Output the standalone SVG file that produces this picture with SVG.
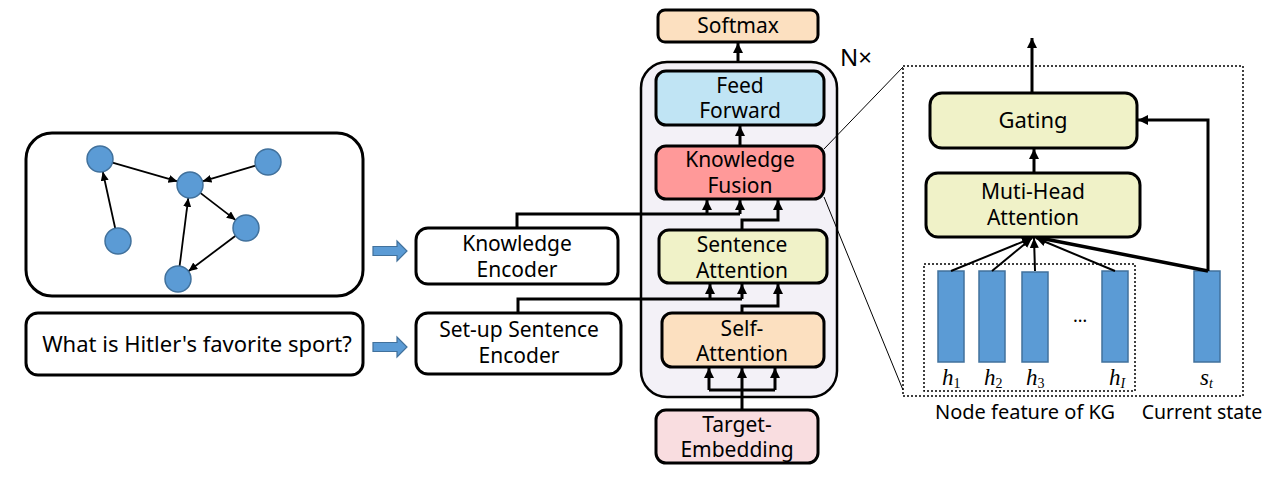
<svg xmlns="http://www.w3.org/2000/svg" width="1280" height="495" viewBox="0 0 1280 495">
<style>
text{font-family:"Noto Sans","Open Sans","Liberation Sans",sans-serif;font-size:21px;fill:#000;text-anchor:middle}
.big{font-size:22px}
.box{stroke:#000;stroke-width:3}
.gnode{fill:#5b9bd5;stroke:#41719c;stroke-width:1.5}
.gedge{stroke:#000;stroke-width:1.8;fill:none;marker-end:url(#sa)}
.th{stroke:#000;stroke-width:3;fill:none}
.tha{stroke:#000;stroke-width:3;fill:none;marker-end:url(#ta)}
.bar{fill:#5b9bd5;stroke:#41719c;stroke-width:1.5}
.dot{fill:none;stroke:#000;stroke-width:1.5;stroke-dasharray:2,2}
.barr{fill:#5b9bd5;stroke:#41719c;stroke-width:1.2}
.math{font-family:"Liberation Serif","DejaVu Serif",serif;font-style:italic;font-size:23px;text-anchor:start}
.sub{font-size:14px}
</style>
<defs>
<marker id="sa" markerUnits="userSpaceOnUse" markerWidth="10" markerHeight="10" refX="9" refY="4" orient="auto"><path d="M0,0 L9,4 L0,8 Z" fill="#000"/></marker>
<marker id="ta" markerUnits="userSpaceOnUse" markerWidth="12" markerHeight="12" refX="10" refY="5" orient="auto"><path d="M0,0 L10,5 L0,10 Z" fill="#000"/></marker>
<marker id="fa" markerUnits="userSpaceOnUse" markerWidth="12" markerHeight="12" refX="10" refY="5" orient="auto"><path d="M0,0.5 L10,5 L0,9.5 Z" fill="#000"/></marker>
</defs>

<g id="kg-graph">
<rect x="26" y="133" width="337" height="163" rx="26" fill="#fff" class="box"/>
<g id="kg-edges">
<line class="gedge" x1="112.5" y1="162.6" x2="177.5" y2="181.4"/>
<line class="gedge" x1="255.5" y1="165.7" x2="202.5" y2="181.3"/>
<line class="gedge" x1="200.3" y1="192.9" x2="235.7" y2="220.1"/>
<line class="gedge" x1="235.6" y1="235.8" x2="188.4" y2="271.2"/>
<line class="gedge" x1="179.6" y1="266.1" x2="188.3" y2="197.9"/>
<line class="gedge" x1="115.2" y1="228.3" x2="102.8" y2="171.7"/>
</g>
<circle class="gnode" cx="100" cy="159" r="13"/>
<circle class="gnode" cx="190" cy="185" r="13"/>
<circle class="gnode" cx="268" cy="162" r="13"/>
<circle class="gnode" cx="118" cy="241" r="13"/>
<circle class="gnode" cx="246" cy="228" r="13"/>
<circle class="gnode" cx="178" cy="279" r="13"/>
</g>

<g id="question">
<rect x="26" y="313" width="337" height="62" rx="12" fill="#fff" class="box"/>
<text x="197" y="352" class="big">What is Hitler's favorite sport?</text>
</g>

<g id="block-arrows">
<path class="barr" d="M373,246.5 L397,246.5 L397,241 L407,251 L397,261 L397,255.5 L373,255.5 Z"/>
<path class="barr" d="M373,342.5 L397,342.5 L397,337 L407,347 L397,357 L397,351.5 L373,351.5 Z"/>
</g>

<g id="knowledge-encoder">
<rect x="416" y="228" width="202" height="56" rx="12" fill="#fff" class="box"/>
<text x="517" y="251">Knowledge</text>
<text x="517" y="277">Encoder</text>
</g>

<g id="setup-encoder">
<rect x="416" y="313" width="205" height="61" rx="12" fill="#fff" class="box"/>
<text x="519" y="337">Set-up Sentence</text>
<text x="519" y="363">Encoder</text>
</g>

<g id="nx-container">
<rect x="641" y="62" width="196" height="335" rx="26" fill="#f3f1f7" stroke="#000" stroke-width="2.5"/>
<text x="856" y="66" style="font-size:24px">N×</text>
</g>

<g id="softmax">
<rect x="658" y="10" width="160" height="32" rx="7" fill="#fce0c0" class="box"/>
<text x="738" y="33">Softmax</text>
</g>

<g id="feed-forward">
<rect x="656" y="71" width="168" height="54" rx="10" fill="#c0e4f4" class="box"/>
<text x="740" y="92.5">Feed</text>
<text x="740" y="118">Forward</text>
</g>

<g id="knowledge-fusion">
<rect x="656" y="146" width="168" height="53" rx="10" fill="#ff9999" class="box"/>
<text x="740" y="167">Knowledge</text>
<text x="740" y="193">Fusion</text>
</g>

<g id="sentence-attention">
<rect x="659" y="230" width="168" height="53" rx="10" fill="#f0f2c8" class="box"/>
<text x="742" y="252">Sentence</text>
<text x="742" y="278">Attention</text>
</g>

<g id="self-attention">
<rect x="662" y="313" width="162" height="54" rx="10" fill="#fce0c0" class="box"/>
<text x="742" y="335.5">Self-</text>
<text x="742" y="361">Attention</text>
</g>

<g id="target-embedding">
<rect x="656" y="410" width="162" height="53" rx="10" fill="#f9dde0" class="box"/>
<text x="737" y="431.5">Target-</text>
<text x="737" y="457">Embedding</text>
</g>

<g id="gating">
<rect x="930" y="93" width="207" height="55" rx="12" fill="#f0f2c8" class="box"/>
<text x="1033" y="128" class="big">Gating</text>
</g>

<g id="multi-head">
<rect x="926" y="173" width="214" height="64" rx="12" fill="#f0f2c8" class="box"/>
<text x="1033" y="199">Muti-Head</text>
<text x="1033" y="225">Attention</text>
</g>

<g id="zoom-panel">
<rect class="dot" x="903" y="66" width="340" height="330"/>
<rect class="dot" x="924" y="264" width="211" height="127"/>
<rect class="bar" x="938" y="271" width="26" height="91"/>
<rect class="bar" x="979" y="271" width="26" height="91"/>
<rect class="bar" x="1022" y="272" width="26" height="90"/>
<rect class="bar" x="1102" y="271" width="26" height="91"/>
<rect class="bar" x="1194" y="271" width="26" height="91"/>
<text x="1080" y="322" style="font-size:18px">…</text>
<text class="math" x="942" y="385">h<tspan class="sub" dy="3" font-style="normal">1</tspan></text>
<text class="math" x="984" y="385">h<tspan class="sub" dy="3" font-style="normal">2</tspan></text>
<text class="math" x="1026" y="385">h<tspan class="sub" dy="3" font-style="normal">3</tspan></text>
<text class="math" x="1109" y="385">h<tspan class="sub" dy="3">I</tspan></text>
<text class="math" x="1200" y="385">s<tspan class="sub" dy="3">t</tspan></text>
<text x="1025" y="419" style="font-size:20px">Node feature of KG</text>
<text x="1202" y="419" style="font-size:19.5px">Current state</text>
</g>

<g id="connectors">
<line class="tha" x1="738" y1="62" x2="738" y2="43"/>
<line class="tha" x1="740" y1="146" x2="740" y2="126"/>
<polyline class="th" points="517,228 517,214 740,214"/>
<line class="tha" x1="707" y1="214" x2="707" y2="200"/>
<line class="tha" x1="740" y1="214" x2="740" y2="200"/>
<polyline class="tha" points="742,230 742,220 778,220 778,200"/>
<polyline class="th" points="518,313 518,299 742,299"/>
<line class="tha" x1="710" y1="299" x2="710" y2="284"/>
<line class="tha" x1="742" y1="299" x2="742" y2="284"/>
<polyline class="tha" points="742,313 742,306 778,306 778,284"/>
<line class="tha" x1="742" y1="410" x2="742" y2="368"/>
<polyline class="th" points="709,390 775,390"/>
<line class="tha" x1="709" y1="390" x2="709" y2="368"/>
<line class="tha" x1="775" y1="390" x2="775" y2="368"/>
<line stroke="#000" stroke-width="1" x1="824" y1="149" x2="903" y2="67"/>
<line stroke="#000" stroke-width="1" x1="824" y1="197" x2="903" y2="390"/>
<line class="tha" x1="1034" y1="173" x2="1034" y2="149"/>
<line class="tha" x1="1032" y1="93" x2="1032" y2="38"/>
<polyline class="tha" points="1208,271 1208,120 1138,120"/>
<g stroke="#000" stroke-width="2" fill="none" marker-end="url(#fa)">
<line x1="951" y1="271" x2="1032" y2="238"/>
<line x1="992" y1="271" x2="1032" y2="238"/>
<line x1="1035" y1="271" x2="1034" y2="238"/>
<line x1="1115" y1="271" x2="1036" y2="238"/>
</g>
<line stroke="#000" stroke-width="3.5" x1="1208" y1="271" x2="1040" y2="238"/>
</g>
</svg>
